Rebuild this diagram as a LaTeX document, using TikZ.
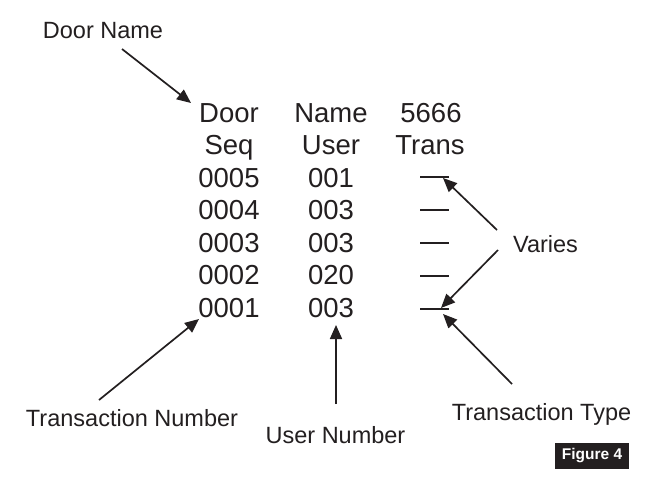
\documentclass[tikz,border=0pt]{standalone}
\usepackage{fontspec}
\setmainfont{Liberation Sans}
\usetikzlibrary{arrows.meta}
\definecolor{ink}{HTML}{231F20}
\begin{document}
\begin{tikzpicture}[x=1pt,y=-1pt,
  cell/.style={anchor=base,inner sep=0pt,font=\fontsize{27.5}{30}\selectfont,text=ink},
  lbl/.style={anchor=base,inner sep=0pt,font=\fontsize{23.5}{26}\selectfont,text=ink},
  ptr/.style={draw=ink,line width=1.7pt,-{Triangle[length=14pt,width=12pt]}},
  dashln/.style={draw=ink,line width=1.8pt}]
\useasboundingbox[fill=white] (0,0) rectangle (645,487);
% table
\node[cell] (h1) at (229,122) {Door};
\node[cell] (h2) at (331,122) {Name};
\node[cell] (h3) at (431,122) {5666};
\node[cell] (s1) at (229,154.5) {Seq};
\node[cell] (s2) at (331,154.5) {User};
\node[cell] (s3) at (430,154.5) {Trans};
\node[cell] (r1a) at (229,187) {0005};
\node[cell] (r1b) at (331,187) {001};
\node[cell] (r2a) at (229,219.5) {0004};
\node[cell] (r2b) at (331,219.5) {003};
\node[cell] (r3a) at (229,252) {0003};
\node[cell] (r3b) at (331,252) {003};
\node[cell] (r4a) at (229,284.5) {0002};
\node[cell] (r4b) at (331,284.5) {020};
\node[cell] (r5a) at (229,317) {0001};
\node[cell] (r5b) at (331,317) {003};
% dashes
\coordinate (d1l) at (420,177); \coordinate (d1r) at (449,177);
\coordinate (d2l) at (420,210); \coordinate (d2r) at (449,210);
\coordinate (d3l) at (420,243); \coordinate (d3r) at (449,243);
\coordinate (d4l) at (420,276); \coordinate (d4r) at (449,276);
\coordinate (d5l) at (420,309); \coordinate (d5r) at (449,309);
\draw[dashln] (d1l) -- (d1r);
\draw[dashln] (d2l) -- (d2r);
\draw[dashln] (d3l) -- (d3r);
\draw[dashln] (d4l) -- (d4r);
\draw[dashln] (d5l) -- (d5r);
% labels
\node[lbl] (doorname) at (103,39) {Door Name};
\node[lbl] (varies) at (545.5,252) {Varies};
\node[lbl] (tnum) at (132,426) {Transaction Number};
\node[lbl] (unum) at (335.5,443) {User Number};
\node[lbl] (ttype) at (541.5,420) {Transaction Type};
\node[fill=ink,text=white,inner sep=0pt,minimum width=74pt,minimum height=26pt,
  font=\fontsize{15.5}{17}\bfseries\selectfont] (fig) at (592,456) {Figure 4};
% arrow ends
\coordinate (a1s) at (122,49);  \coordinate (a1t) at (191,103);
\coordinate (a2s) at (497,230); \coordinate (a2t) at (443,178);
\coordinate (a3s) at (498,250); \coordinate (a3t) at (441,308);
\coordinate (a4s) at (99,400);  \coordinate (a4t) at (199,319);
\coordinate (a5s) at (336,404); \coordinate (a5t) at (336,325);
\coordinate (a6s) at (512,384); \coordinate (a6t) at (443,314);
\draw[ptr] (a1s) -- (a1t);
\draw[ptr] (a2s) -- (a2t);
\draw[ptr] (a3s) -- (a3t);
\draw[ptr] (a4s) -- (a4t);
\draw[ptr] (a5s) -- (a5t);
\draw[ptr] (a6s) -- (a6t);
\end{tikzpicture}
\end{document}
